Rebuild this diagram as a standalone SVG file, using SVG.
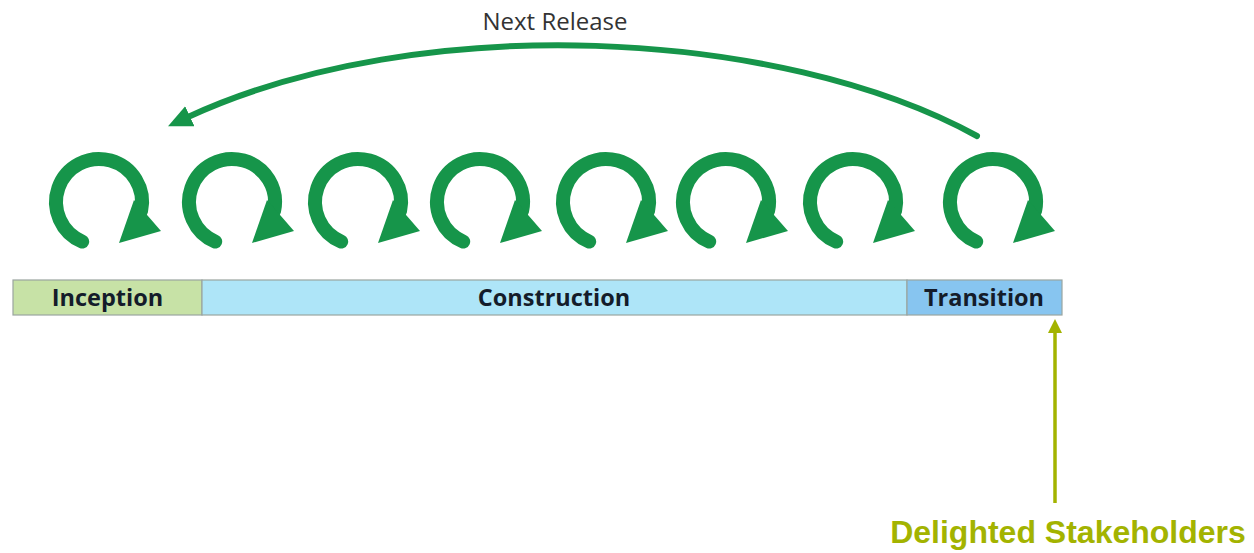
<svg xmlns="http://www.w3.org/2000/svg" xmlns:xlink="http://www.w3.org/1999/xlink" width="1254" height="553" viewBox="0 0 1254 553">
  <style>
    .ring { fill: none; stroke: #16954a; stroke-width: 14; stroke-linecap: round; }
    .head { fill: #16954a; }
    .bar { stroke: #9aa5a0; stroke-width: 1.2; }
    .lbl { font-family: "Open Sans", "Liberation Sans", sans-serif; font-weight: bold; font-size: 23.5px; fill: #141c2a; text-anchor: middle; }
  </style>
  <defs>
    <g id="cyc">
      <path class="ring" d="M -16.8 39.6 A 43 43 0 1 1 42.1 8.9"/>
      <polygon class="head" points="35,-2 62,29 20,41"/>
    </g>
    <marker id="mGreen" markerUnits="userSpaceOnUse" viewBox="0 0 24 22" markerWidth="24" markerHeight="22" refX="2" refY="11" orient="auto">
      <path d="M0,0 L24,11 L0,22 z" fill="#16954a"/>
    </marker>
    <marker id="mOlive" markerUnits="userSpaceOnUse" viewBox="0 0 14 14" markerWidth="14" markerHeight="14" refX="1" refY="7" orient="auto">
      <path d="M0,0 L14,7 L0,14 z" fill="#a3b300"/>
    </marker>
  </defs>
  <rect width="1254" height="553" fill="#ffffff"/>

  <g id="iterations">
    <use xlink:href="#cyc" transform="translate(99,202)"/>
    <use xlink:href="#cyc" transform="translate(232,202)"/>
    <use xlink:href="#cyc" transform="translate(358,202)"/>
    <use xlink:href="#cyc" transform="translate(480,202)"/>
    <use xlink:href="#cyc" transform="translate(606,202)"/>
    <use xlink:href="#cyc" transform="translate(726,202)"/>
    <use xlink:href="#cyc" transform="translate(853,202)"/>
    <use xlink:href="#cyc" transform="translate(993,202)"/>
  </g>

  <g id="inception">
    <rect class="bar" x="13" y="280" width="189" height="35" fill="#c7e2a6"/>
    <text class="lbl" x="107.5" y="305.5">Inception</text>
  </g>
  <g id="construction">
    <rect class="bar" x="202" y="280" width="705" height="35" fill="#aee5f8"/>
    <text class="lbl" x="554" y="305.5">Construction</text>
  </g>
  <g id="transition">
    <rect class="bar" x="907" y="280" width="155" height="35" fill="#87c5f0"/>
    <text class="lbl" x="984" y="305.5">Transition</text>
  </g>

  <g id="next-release-label">
    <text x="555" y="30" font-family="Open Sans, Liberation Sans, sans-serif" font-size="24" fill="#333333" text-anchor="middle">Next Release</text>
  </g>
  <g id="stakeholders">
    <text x="1068" y="543" font-family="Liberation Sans, Arial, sans-serif" font-weight="bold" font-size="32" fill="#a3b300" text-anchor="middle">Delighted Stakeholders</text>
  </g>

  <g id="connectors">
    <path d="M 977 136 C 780 28 420 10 188 117" fill="none" stroke="#16954a" stroke-width="6" stroke-linecap="round" marker-end="url(#mGreen)"/>
    <line x1="1055" y1="503" x2="1055" y2="332" stroke="#a3b300" stroke-width="3.5" marker-end="url(#mOlive)"/>
  </g>
</svg>
